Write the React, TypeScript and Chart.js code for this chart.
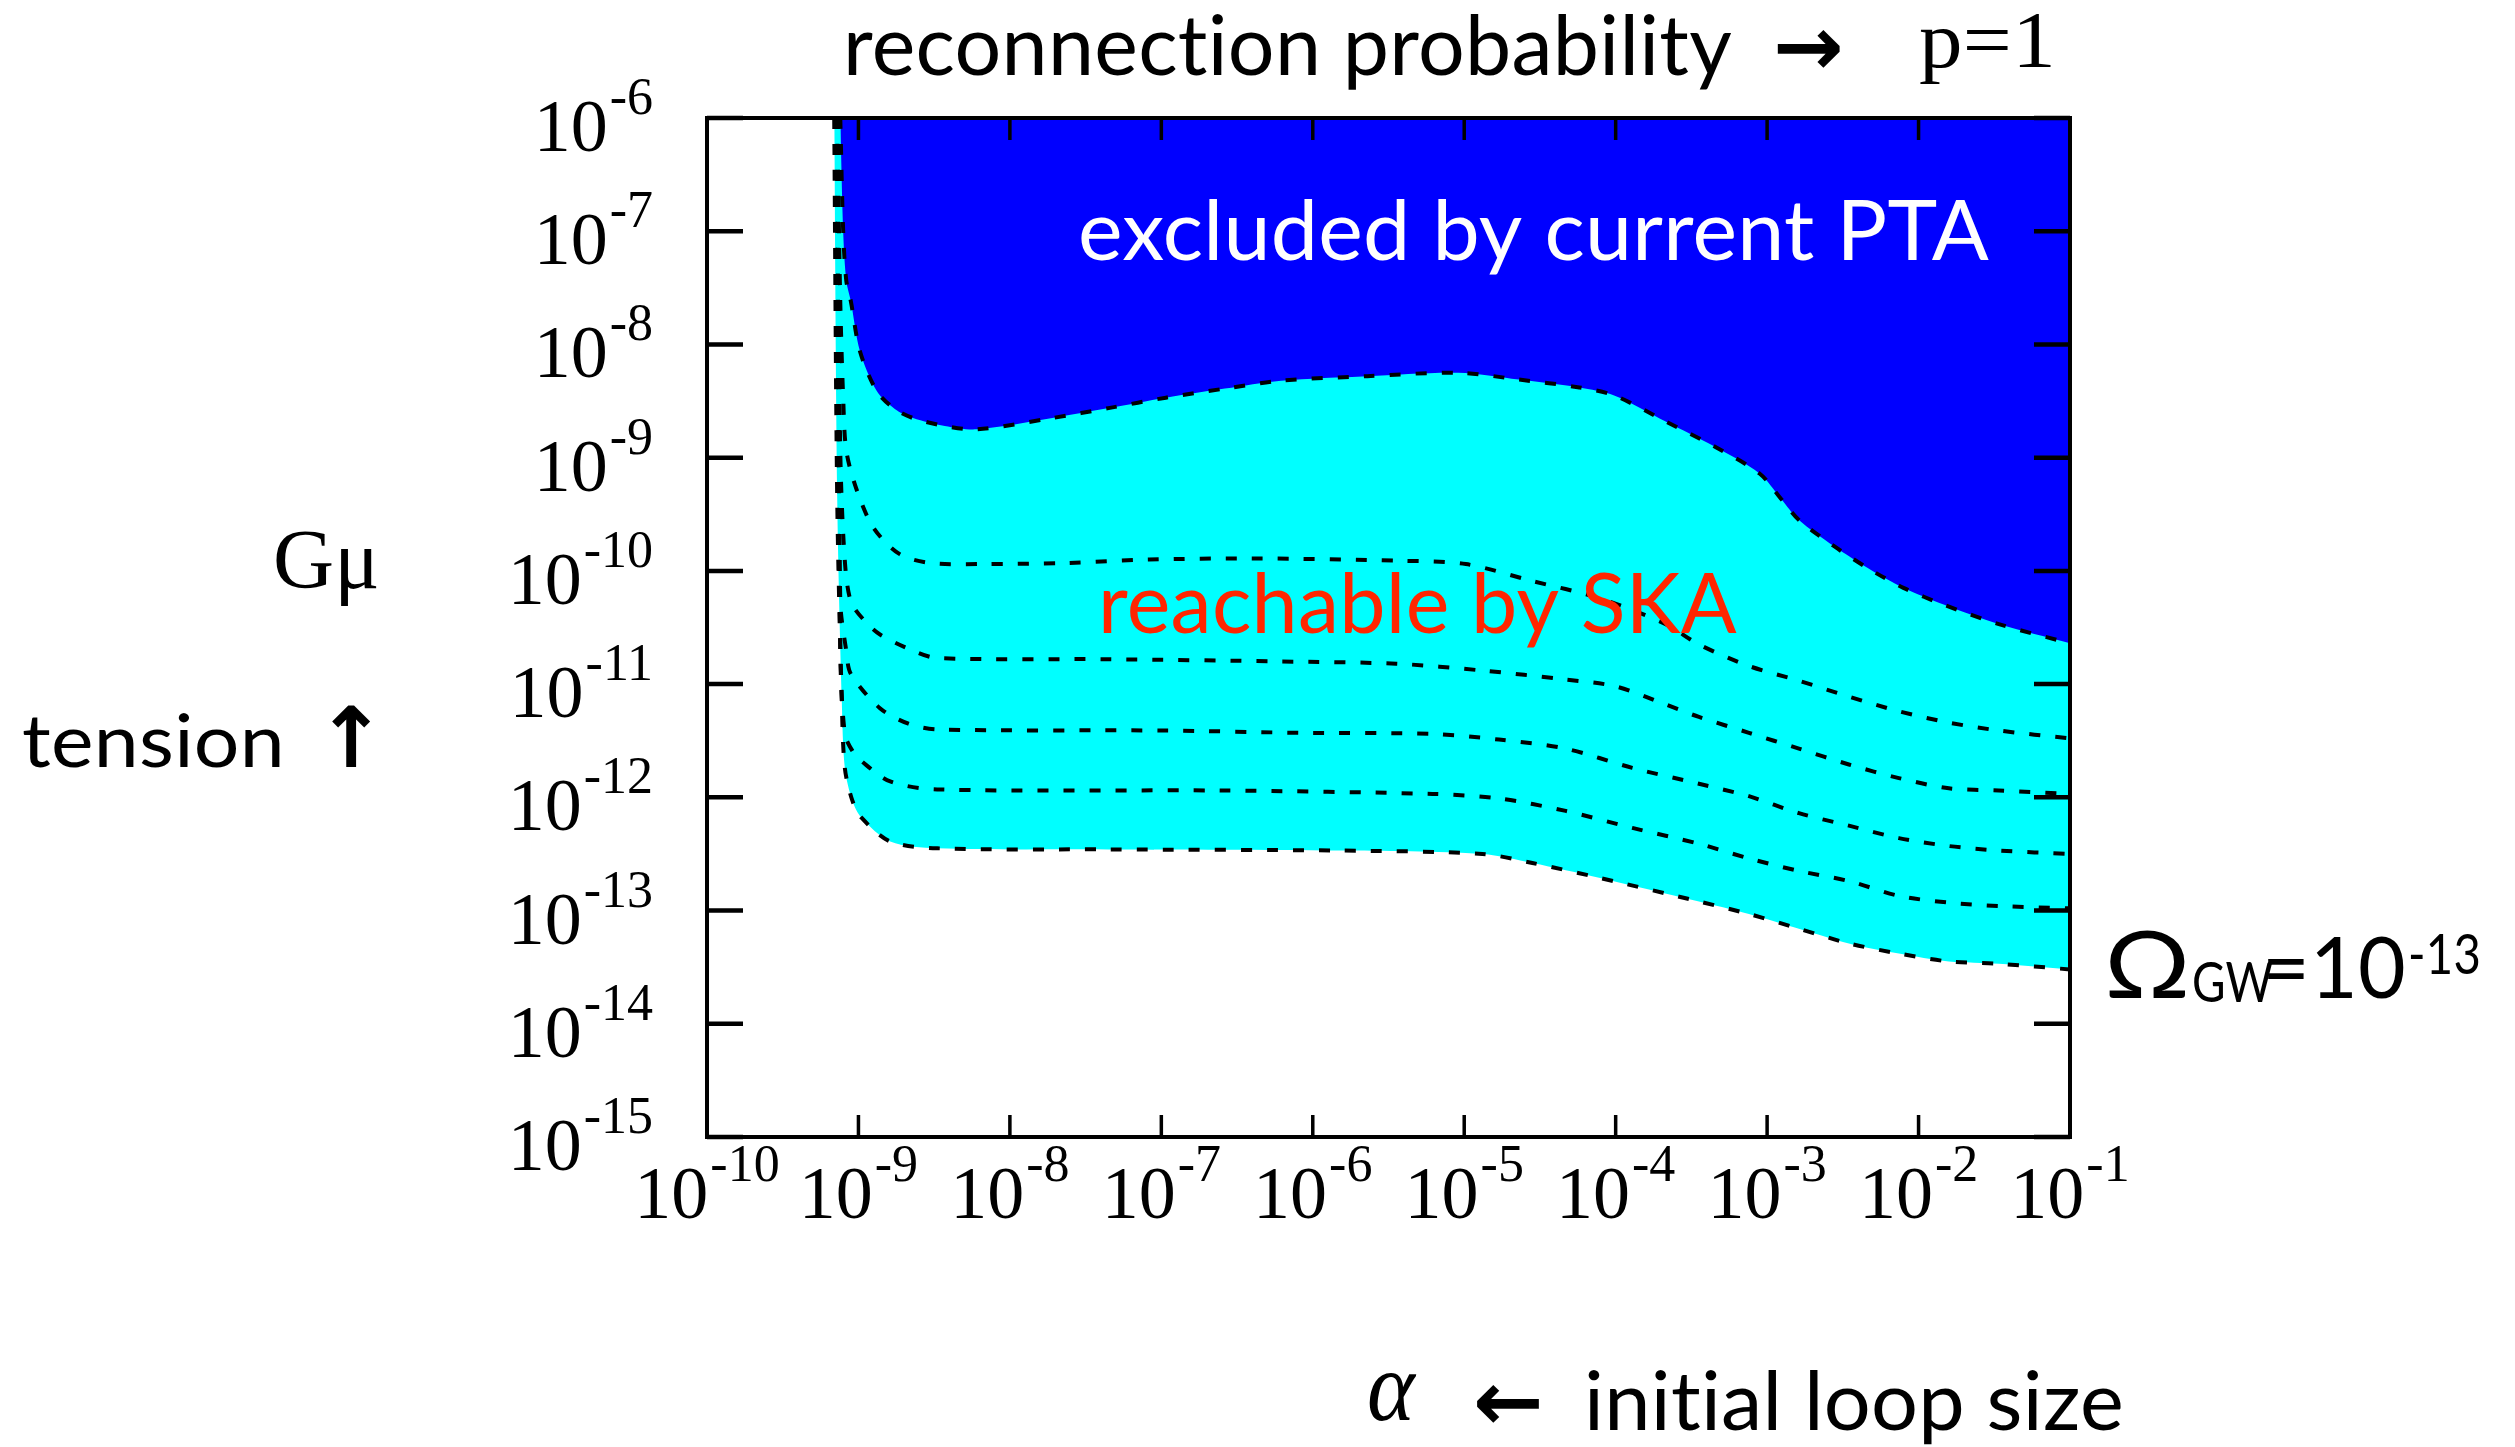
import { useEffect, useRef } from 'react';
import { Chart, registerables } from 'chart.js';

Chart.register(...registerables);

// ---- axis ticks (decade exponents) ----
const X_TICK_EXPONENTS = [-10, -9, -8, -7, -6, -5, -4, -3, -2, -1];
const Y_TICK_EXPONENTS = [-15, -14, -13, -12, -11, -10, -9, -8, -7, -6];
const X_RANGE = [-10, -1];
const Y_RANGE = [-15, -6];

// ---- curves: log10(alpha) and log10(G mu) ----
// current PTA bound (edge of excluded region)
const PTA_LOG_ALPHA = [-9.12, -9.10, -9.08, -9.05, -8.99, -8.88, -8.76, -8.64, -8.43, -8.22, -7.72, -7.34, -6.97, -6.58, -6.21, -5.64, -5.04, -4.64, -4.24, -4.01, -3.67, -3.35, -3.05, -2.91, -2.79, -2.56, -2.33, -2.10, -1.83, -1.47, -1.00];
const PTA_LOG_GMU = [-6.00, -7.03, -7.44, -7.62, -8.06, -8.41, -8.57, -8.65, -8.72, -8.75, -8.65, -8.56, -8.47, -8.39, -8.32, -8.28, -8.25, -8.31, -8.38, -8.45, -8.68, -8.90, -9.14, -9.36, -9.55, -9.78, -9.98, -10.15, -10.30, -10.47, -10.64];

// SKA sensitivity contours
const SKA_A_LOG_ALPHA = [-9.14, -9.12, -9.10, -9.08, -9.01, -8.90, -8.73, -8.53, -8.20, -7.62, -7.08, -6.40, -5.43, -4.99, -4.55, -4.11, -3.67, -3.45, -3.12, -2.79, -2.46, -2.13, -1.80, -1.47, -1.00];
const SKA_A_LOG_GMU = [-6.00, -7.62, -8.50, -8.94, -9.29, -9.62, -9.85, -9.93, -9.94, -9.93, -9.90, -9.89, -9.91, -9.94, -10.09, -10.24, -10.47, -10.65, -10.84, -10.97, -11.11, -11.24, -11.34, -11.41, -11.48];

const SKA_B_LOG_ALPHA = [-9.14, -9.12, -9.09, -9.05, -8.96, -8.86, -8.63, -8.48, -7.35, -6.21, -5.45, -4.88, -4.33, -4.00, -3.67, -3.45, -3.12, -2.79, -2.46, -2.13, -1.80, -1.47, -1.00];
const SKA_B_LOG_GMU = [-6.00, -8.94, -9.91, -10.27, -10.44, -10.56, -10.71, -10.77, -10.78, -10.80, -10.82, -10.88, -10.96, -11.02, -11.18, -11.29, -11.43, -11.57, -11.71, -11.83, -11.92, -11.94, -11.97];

const SKA_C_LOG_ALPHA = [-9.14, -9.12, -9.08, -9.05, -8.86, -8.67, -8.48, -6.97, -6.09, -5.21, -4.77, -4.33, -3.89, -3.45, -3.12, -2.79, -2.46, -2.13, -1.80, -1.47, -1.00];
const SKA_C_LOG_GMU = [-6.00, -10.27, -10.71, -10.91, -11.21, -11.35, -11.40, -11.41, -11.43, -11.44, -11.49, -11.57, -11.74, -11.88, -11.99, -12.14, -12.25, -12.36, -12.43, -12.47, -12.50];

const SKA_D_LOG_ALPHA = [-9.14, -9.12, -9.09, -9.04, -8.98, -8.79, -8.48, -6.59, -5.21, -4.77, -4.33, -3.89, -3.45, -3.12, -2.79, -2.46, -2.13, -1.80, -1.47, -1.00];
const SKA_D_LOG_GMU = [-6.00, -10.71, -11.44, -11.59, -11.68, -11.86, -11.93, -11.94, -11.97, -12.01, -12.12, -12.27, -12.41, -12.54, -12.65, -12.74, -12.87, -12.93, -12.96, -12.98];

// Omega_GW = 1e-13 contour (lower edge of reachable region)
const OMEGA13_LOG_ALPHA = [-9.16, -9.14, -9.11, -9.09, -9.04, -8.98, -8.79, -8.48, -7.35, -5.83, -4.88, -4.55, -4.11, -3.45, -3.12, -2.79, -2.46, -2.13, -1.80, -1.47, -1.00];
const OMEGA13_LOG_GMU = [-6.00, -9.38, -11.15, -11.74, -12.03, -12.18, -12.39, -12.45, -12.46, -12.47, -12.50, -12.58, -12.71, -12.92, -13.03, -13.16, -13.29, -13.38, -13.45, -13.47, -13.52];

// ---- texts ----
const TOP_LABEL = 'reconnection probability';
const TOP_ARROW = '→';
const TOP_P = 'p=1';
const EXCLUDED_LABEL = 'excluded by current PTA';
const REACH_LABEL = 'reachable by SKA';
const Y_SYMBOL = 'Gμ';
const Y_WORD = 'tension';
const Y_ARROW = '↑';
const X_SYMBOL = 'α';
const X_ARROW = '←';
const X_WORD = 'initial loop size';

const BLUE = '#0000ff';
const CYAN = '#00ffff';
const RED = '#ff2600';

const SERIF = '"Liberation Serif", "DejaVu Serif", serif';
const SANS = 'Lato, "Open Sans", sans-serif';
const SYM = '"DejaVu Sans", sans-serif';

function toPoints(ax: number[], gy: number[]) {
  return ax.map((a, i) => ({ x: Math.pow(10, a), y: Math.pow(10, gy[i]) }));
}

function drawText(
  ctx: CanvasRenderingContext2D,
  s: string,
  x: number,
  y: number,
  font: string,
  color: string,
  width?: number
) {
  ctx.save();
  const c: any = ctx;
  try {
    c.textRendering = 'optimizeSpeed';
    c.letterSpacing = '0.3px';
  } catch (e) {
    /* ignore */
  }
  ctx.font = font;
  ctx.fillStyle = color;
  ctx.textAlign = 'left';
  ctx.textBaseline = 'alphabetic';
  const w = ctx.measureText(s).width;
  let sx = 1;
  if (width && w > 0) sx = Math.min(1.15, Math.max(0.82, width / w));
  ctx.translate(x, y);
  ctx.scale(sx, 1);
  ctx.fillText(s, 0, 0);
  ctx.restore();
}

function drawPower(
  ctx: CanvasRenderingContext2D,
  exp: number,
  x: number,
  baseline: number,
  align: 'right' | 'center'
) {
  const b = '10';
  const s = String(exp);
  const bf = `74px ${SERIF}`;
  const sf = `52px ${SERIF}`;
  ctx.save();
  ctx.fillStyle = '#000';
  ctx.textBaseline = 'alphabetic';
  ctx.textAlign = 'left';
  ctx.font = bf;
  const wb = ctx.measureText(b).width;
  ctx.font = sf;
  const ws = ctx.measureText(s).width;
  const tot = wb + 2 + ws;
  const x0 = align === 'right' ? x - tot : x - tot / 2;
  ctx.font = bf;
  ctx.fillText(b, x0, baseline);
  ctx.font = sf;
  ctx.fillText(s, x0 + wb + 2, baseline - 37);
  ctx.restore();
}

const overlay = {
  id: 'overlay',
  afterDraw(chart: any) {
    const ctx: CanvasRenderingContext2D = chart.ctx;
    const { left, right, top, bottom } = chart.chartArea;
    const xs = chart.scales.x;
    const ys = chart.scales.y;
    ctx.save();
    ctx.strokeStyle = '#000';
    ctx.lineCap = 'butt';

    // x ticks (inward, bottom and top)
    ctx.lineWidth = 3.5;
    for (const e of X_TICK_EXPONENTS) {
      const px = xs.getPixelForValue(Math.pow(10, e));
      ctx.beginPath();
      ctx.moveTo(px, bottom);
      ctx.lineTo(px, bottom - 22);
      ctx.moveTo(px, top);
      ctx.lineTo(px, top + 22);
      ctx.stroke();
    }
    // y ticks (inward, left and right)
    ctx.lineWidth = 4.5;
    for (const e of Y_TICK_EXPONENTS) {
      const py = ys.getPixelForValue(Math.pow(10, e));
      ctx.beginPath();
      ctx.moveTo(left, py);
      ctx.lineTo(left + 36, py);
      ctx.moveTo(right, py);
      ctx.lineTo(right - 36, py);
      ctx.stroke();
    }
    // frame
    ctx.lineWidth = 4;
    ctx.strokeRect(left, top, right - left, bottom - top);

    // tick labels
    for (const e of Y_TICK_EXPONENTS) {
      const py = ys.getPixelForValue(Math.pow(10, e));
      drawPower(ctx, e, left - 54, py + 33, 'right');
    }
    for (const e of X_TICK_EXPONENTS) {
      const px = xs.getPixelForValue(Math.pow(10, e));
      drawPower(ctx, e, px, bottom + 81, 'center');
    }
    ctx.restore();

    // annotations
    drawText(ctx, TOP_LABEL, 843, 75, `84px ${SANS}`, '#000', 889);
    drawText(ctx, TOP_ARROW, 1773, 75, `bold 84px ${SYM}`, '#000', 71);
    drawText(ctx, TOP_P, 1919, 67, `80px ${SERIF}`, '#000', 137);

    drawText(ctx, EXCLUDED_LABEL, 1078, 260, `84px ${SANS}`, '#ffffff', 911);
    drawText(ctx, REACH_LABEL, 1098, 633, `84px ${SANS}`, RED, 639);

    drawText(ctx, Y_SYMBOL, 273, 588, `84px ${SERIF}`, '#000', 107);
    drawText(ctx, Y_WORD, 22, 767, `74px ${SANS}`, '#000', 263);
    drawText(ctx, Y_ARROW, 316, 767, `bold 84px ${SYM}`, '#000');

    // Omega_GW = 10^-13
    drawText(ctx, 'Ω', 2104, 998, `94px ${SANS}`, '#000', 87);
    drawText(ctx, 'GW', 2192, 1002, `56px ${SANS}`, '#000', 67);
    drawText(ctx, '=10', 2262, 998, `86px ${SANS}`, '#000', 144);
    drawText(ctx, '-13', 2408, 974, `56px ${SANS}`, '#000', 73);

    drawText(ctx, X_SYMBOL, 1367, 1420, `italic 100px ${SERIF}`, '#000', 48);
    drawText(ctx, X_ARROW, 1473, 1430, `bold 84px ${SYM}`, '#000', 71);
    drawText(ctx, X_WORD, 1584, 1430, `82px ${SANS}`, '#000', 540);
  },
};

function contour(ax: number[], gy: number[], extra: any = {}) {
  return {
    data: toPoints(ax, gy),
    borderColor: '#000',
    borderWidth: 4,
    borderDash: [11, 15],
    pointRadius: 0,
    tension: 0.3,
    fill: false,
    ...extra,
  };
}

export default function App() {
  const ref = useRef<HTMLCanvasElement>(null);
  useEffect(() => {
    const canvas = ref.current;
    if (!canvas) return;
    const chart = new Chart(canvas, {
      type: 'line',
      data: {
        datasets: [
          contour(PTA_LOG_ALPHA, PTA_LOG_GMU, { fill: 'end', backgroundColor: BLUE }),
          contour(SKA_A_LOG_ALPHA, SKA_A_LOG_GMU),
          contour(SKA_B_LOG_ALPHA, SKA_B_LOG_GMU),
          contour(SKA_C_LOG_ALPHA, SKA_C_LOG_GMU),
          contour(SKA_D_LOG_ALPHA, SKA_D_LOG_GMU),
          contour(OMEGA13_LOG_ALPHA, OMEGA13_LOG_GMU, { fill: 'end', backgroundColor: CYAN }),
        ] as any,
      },
      options: {
        animation: false,
        responsive: false,
        devicePixelRatio: 1,
        events: [],
        layout: { padding: { left: 707, right: 445, top: 118, bottom: 310 } },
        scales: {
          x: {
            type: 'logarithmic',
            min: Math.pow(10, X_RANGE[0]),
            max: Math.pow(10, X_RANGE[1]),
            display: false,
          },
          y: {
            type: 'logarithmic',
            min: Math.pow(10, Y_RANGE[0]),
            max: Math.pow(10, Y_RANGE[1]),
            display: false,
          },
        },
        plugins: {
          legend: { display: false },
          tooltip: { enabled: false },
          filler: { drawTime: 'beforeDatasetsDraw' },
        },
      } as any,
      plugins: [overlay],
    });
    return () => chart.destroy();
  }, []);
  return (
    <canvas
      ref={ref}
      width={2515}
      height={1447}
      style={{ position: 'fixed', left: 0, top: 0, width: '2515px', height: '1447px', background: '#fff' }}
    />
  );
}
